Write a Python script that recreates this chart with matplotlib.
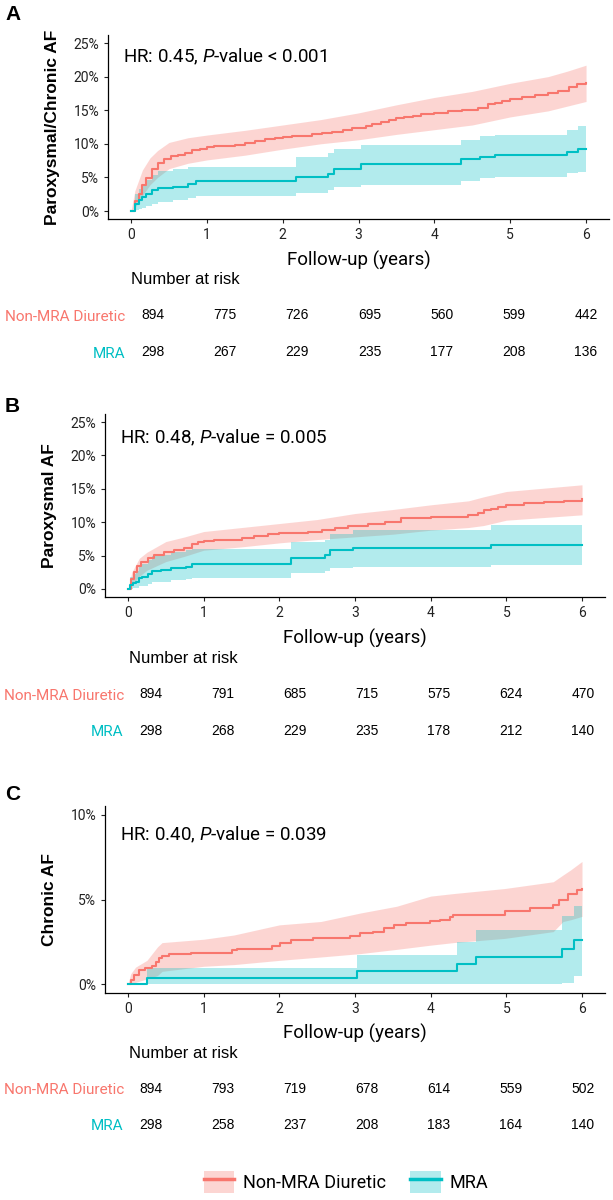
import matplotlib
matplotlib.use("Agg")
import matplotlib.pyplot as plt
from matplotlib.patches import Patch
from matplotlib.lines import Line2D

plt.rcParams['font.family'] = ['Roboto', 'DejaVu Sans']
plt.rcParams['mathtext.fontset'] = 'custom'
plt.rcParams['mathtext.rm'] = 'Roboto'
plt.rcParams['mathtext.it'] = 'Roboto:italic'

RED = '#F8766D'
TEAL = '#00BFC4'
groups = ['Non-MRA Diuretic', 'MRA']
risk_times = [0, 1, 2, 3, 4, 5, 6]

# ---- Panel A: Paroxysmal/Chronic AF ----
a_t_red = [0, 0.05, 0.1, 0.15, 0.2, 0.27, 0.35, 0.44, 0.53, 0.62, 0.71, 0.8, 0.91, 1.0, 1.1,
           1.24, 1.37, 1.5, 1.63, 1.77, 1.9, 2.0, 2.12, 2.26, 2.39, 2.52, 2.65, 2.79, 2.92, 3.0,
           3.1, 3.18, 3.3, 3.4, 3.5, 3.6, 3.72, 3.83, 4.0, 4.18, 4.36, 4.58, 4.71, 4.8, 4.89,
           5.0, 5.15, 5.33, 5.5, 5.63, 5.77, 5.88, 6.0]
a_red = [0, 1.5, 2.6, 3.9, 4.9, 6.3, 7.1, 7.7, 8.2, 8.4, 8.7, 9.1, 9.3, 9.5, 9.6,
         9.6, 9.8, 10.1, 10.4, 10.7, 10.8, 11.0, 11.2, 11.2, 11.4, 11.6, 11.8, 12.05, 12.3, 12.4,
         12.7, 12.9, 13.2, 13.5, 13.8, 14.0, 14.2, 14.4, 14.6, 14.9, 15.0, 15.3, 15.9, 16.1, 16.4,
         16.6, 17.0, 17.3, 17.5, 17.8, 18.4, 18.85, 19.0]
a_t_red_ci = [0, 0.05, 0.15, 0.25, 0.35, 0.5, 0.75, 1.0, 1.5, 2.0, 2.5, 3.0, 3.5, 4.0, 4.5,
              5.0, 5.5, 5.75, 6.0]
a_red_hi = [0, 3.0, 6.1, 7.9, 9.0, 10.2, 10.9, 11.3, 12.0, 12.8, 13.6, 14.6, 15.8, 16.9, 17.8,
            19.0, 20.0, 20.8, 21.7]
a_red_lo = [0, 0.5, 2.3, 3.9, 5.0, 6.3, 7.1, 7.6, 8.3, 9.2, 10.0, 10.6, 11.4, 12.1, 12.8,
            14.0, 14.9, 15.6, 16.3]
a_t_teal = [0, 0.05, 0.1, 0.15, 0.2, 0.27, 0.35, 0.55, 0.75, 0.86, 2.17, 2.6, 2.68, 3.03,
            4.35, 4.6, 4.8, 5.75, 5.9, 6.0]
a_teal = [0, 1.1, 1.6, 2.1, 2.6, 3.1, 3.4, 3.6, 4.0, 4.4, 5.0, 5.5, 6.2, 7.0,
          7.7, 8.0, 8.3, 8.8, 9.3, 9.3]
a_teal_hi = [0, 2.5, 3.2, 3.9, 4.6, 5.3, 5.9, 6.3, 6.5, 6.6, 8.0, 8.6, 9.3, 9.8,
             10.6, 11.1, 11.3, 12.0, 12.6, 12.6]
a_teal_lo = [0, 0.1, 0.3, 0.5, 0.8, 1.1, 1.4, 1.7, 2.0, 2.3, 2.7, 3.1, 3.5, 3.9,
             4.4, 4.9, 5.1, 5.6, 5.85, 5.85]
a_risk_red = [894, 775, 726, 695, 560, 599, 442]
a_risk_teal = [298, 267, 229, 235, 177, 208, 136]

# ---- Panel B: Paroxysmal AF ----
b_t_red = [0, 0.04, 0.08, 0.12, 0.17, 0.26, 0.35, 0.48, 0.61, 0.74, 0.85, 0.93, 1.0, 1.14,
           1.32, 1.5, 1.67, 1.85, 2.0, 2.2, 2.38, 2.56, 2.73, 2.91, 3.0, 3.17, 3.39, 3.61,
           3.83, 4.0, 4.26, 4.49, 4.62, 4.71, 4.8, 4.89, 5.0, 5.24, 5.5, 5.76, 6.0]
b_red = [0, 1.5, 2.6, 3.4, 4.1, 4.7, 5.1, 5.6, 5.8, 6.1, 6.7, 7.0, 7.2, 7.4,
         7.4, 7.6, 8.0, 8.2, 8.4, 8.4, 8.6, 8.8, 9.2, 9.4, 9.5, 9.8, 10.1, 10.6,
         10.7, 10.8, 10.8, 11.1, 11.4, 11.8, 12.0, 12.3, 12.5, 12.8, 13.0, 13.2, 13.4]
b_t_red_ci = [0, 0.05, 0.15, 0.25, 0.5, 0.75, 1.0, 1.5, 2.0, 2.5, 3.0, 3.5, 4.0, 4.5, 4.7,
              5.0, 5.5, 6.0]
b_red_hi = [0, 2.5, 4.6, 5.5, 7.1, 7.8, 8.6, 9.2, 9.8, 10.4, 11.3, 11.9, 12.6, 13.2, 13.8,
            14.6, 15.1, 15.6]
b_red_lo = [0, 0.6, 1.9, 2.8, 4.1, 4.9, 5.8, 6.3, 6.9, 7.4, 7.8, 8.2, 8.8, 9.2, 9.5,
            10.3, 10.7, 11.1]
b_t_teal = [0, 0.03, 0.06, 0.1, 0.15, 0.19, 0.26, 0.32, 0.43, 0.57, 0.77, 0.85, 2.16, 2.6,
            2.67, 2.97, 4.8, 6.0]
b_teal = [0, 0.6, 0.85, 1.1, 1.6, 1.85, 2.3, 2.7, 2.85, 3.1, 3.3, 3.8, 4.6, 5.1,
          5.8, 6.2, 6.6, 6.6]
b_teal_hi = [0, 1.8, 2.3, 2.7, 3.4, 3.8, 4.4, 4.9, 5.1, 5.5, 5.8, 6.0, 7.1, 7.4,
             8.3, 8.8, 9.6, 9.6]
b_teal_lo = [0, 0.0, 0.1, 0.2, 0.4, 0.5, 0.8, 1.0, 1.1, 1.3, 1.5, 1.6, 2.4, 2.7,
             3.1, 3.3, 3.6, 3.6]
b_risk_red = [894, 791, 685, 715, 575, 624, 470]
b_risk_teal = [298, 268, 229, 235, 178, 212, 140]

# ---- Panel C: Chronic AF ----
c_t_red = [0, 0.035, 0.08, 0.145, 0.23, 0.32, 0.365, 0.41, 0.45, 0.54, 0.83, 1.38, 1.44, 1.9,
           2.01, 2.15, 2.45, 2.94, 3.07, 3.24, 3.38, 3.51, 3.68, 3.99, 4.12, 4.25, 4.3, 4.98,
           5.31, 5.62, 5.7, 5.82, 5.93, 6.0]
c_red = [0, 0.24, 0.53, 0.83, 0.93, 1.07, 1.32, 1.52, 1.66, 1.76, 1.85, 2.0, 2.1, 2.25,
         2.45, 2.6, 2.75, 2.85, 3.0, 3.1, 3.3, 3.5, 3.6, 3.7, 3.8, 3.95, 4.1, 4.3,
         4.5, 4.7, 5.0, 5.3, 5.55, 5.65]
c_t_red_ci = [0, 0.035, 0.1, 0.25, 0.39, 0.45, 1.0, 1.4, 2.0, 2.55, 3.07, 3.55, 4.0, 4.3,
              4.98, 5.62, 5.75, 5.85, 6.0]
c_red_hi = [0, 0.6, 1.0, 1.4, 2.2, 2.45, 2.65, 2.9, 3.5, 3.7, 4.2, 4.6, 5.2, 5.35,
            5.65, 6.05, 6.45, 6.75, 7.25]
c_red_lo = [0, 0.0, 0.1, 0.3, 0.5, 0.75, 1.05, 1.15, 1.4, 1.6, 1.8, 2.05, 2.3, 2.45,
            2.7, 3.1, 3.7, 3.8, 4.0]
c_t_teal = [0, 0.255, 3.03, 4.35, 4.6, 5.74, 5.9, 6.0]
c_teal = [0, 0.37, 0.79, 1.18, 1.62, 2.1, 2.6, 2.6]
c_teal_hi = [0, 0.95, 1.7, 2.5, 3.2, 4.0, 4.6, 4.6]
c_teal_lo = [0, 0.0, 0.0, 0.0, 0.0, 0.05, 0.5, 0.5]
c_risk_red = [894, 793, 719, 678, 614, 559, 502]
c_risk_teal = [298, 258, 237, 208, 183, 164, 140]

W, H = 613, 1200


def box(l, t, r, b):
    return [l / W, 1 - b / H, (r - l) / W, (b - t) / H]


fig = plt.figure(figsize=(W / 100, H / 100), dpi=100)

panels = [
    dict(letter='A', ylab='Paroxysmal/Chronic AF', text=r'HR: 0.45, $\mathit{P}$-value < 0.001',
         ymax=25, ystep=5, ytext=22.9,
         red=(a_t_red, a_red), red_ci=(a_t_red_ci, a_red_lo, a_red_hi),
         teal=(a_t_teal, a_teal, a_teal_lo, a_teal_hi), risk=(a_risk_red, a_risk_teal),
         plot=(108.3, 34.6, 608.8, 219.4), table=(131.3, 296.5, 607.7, 370.5), ly=15),
    dict(letter='B', ylab='Paroxysmal AF', text=r'HR: 0.48, $\mathit{P}$-value = 0.005',
         ymax=25, ystep=5, ytext=22.7,
         red=(b_t_red, b_red), red_ci=(b_t_red_ci, b_red_lo, b_red_hi),
         teal=(b_t_teal, b_teal, b_teal_lo, b_teal_hi), risk=(b_risk_red, b_risk_teal),
         plot=(105.3, 413.7, 604.7, 597.3), table=(129.4, 675.5, 604.6, 749.5), ly=407),
    dict(letter='C', ylab='Chronic AF', text=r'HR: 0.40, $\mathit{P}$-value = 0.039',
         ymax=10, ystep=5, ytext=8.8,
         red=(c_t_red, c_red), red_ci=(c_t_red_ci, c_red_lo, c_red_hi),
         teal=(c_t_teal, c_teal, c_teal_lo, c_teal_hi), risk=(c_risk_red, c_risk_teal),
         plot=(105.3, 806.5, 604.7, 992.5), table=(129.4, 1071, 604.6, 1143), ly=795),
]

for p in panels:
    ax = fig.add_axes(box(*p['plot']))
    t, lo, hi = p['red_ci']
    ax.fill_between(t, lo, hi, color=RED, alpha=0.3, linewidth=0)
    t, y, lo, hi = p['teal']
    ax.fill_between(t, lo, hi, step='post', color=TEAL, alpha=0.3, linewidth=0)
    ax.plot(*p['red'], drawstyle='steps-post', color=RED, lw=1.5)
    ax.plot(t, y, drawstyle='steps-post', color=TEAL, lw=1.5)
    ax.set_xlim(-0.3, 6.3)
    ax.set_ylim(-0.05 * p['ymax'], 1.05 * p['ymax'])
    ax.set_xticks(risk_times)
    yt = list(range(0, p['ymax'] + 1, p['ystep']))
    ax.set_yticks(yt)
    ax.set_yticklabels([f'{v}%' for v in yt])
    ax.tick_params(labelsize=10, length=3, width=0.8, colors='#222222')
    for s in ['top', 'right']:
        ax.spines[s].set_visible(False)
    for s in ['left', 'bottom']:
        ax.spines[s].set_linewidth(0.9)
    ax.set_xlabel('Follow-up (years)', fontsize=13.5, labelpad=6)
    ax.set_ylabel(p['ylab'], fontsize=12.5, fontweight='bold',
                  family=['Liberation Sans', 'DejaVu Sans'], labelpad=10)
    ax.text(-0.1, p['ytext'], p['text'], fontsize=13.5, va='center', ha='left')
    fig.text(5 / W, 1 - p['ly'] / H, p['letter'], fontsize=15, fontweight='bold',
             family=['Liberation Sans', 'DejaVu Sans'], va='center', ha='left')

    # risk table
    tx = fig.add_axes(box(*p['table']))
    tx.set_xlim(-0.3, 6.3)
    tx.set_ylim(-0.5, 1.5)
    for row, vals in [(1, p['risk'][0]), (0, p['risk'][1])]:
        for tt, v in zip(risk_times, vals):
            tx.text(tt, row, str(v), ha='center', va='center', fontsize=10,
                    family=['Liberation Sans', 'DejaVu Sans'])
    tx.set_xticks([])
    tx.set_yticks([1, 0])
    tx.set_yticklabels(groups, fontsize=11)
    for lab, col in zip(tx.get_yticklabels(), [RED, TEAL]):
        lab.set_color(col)
    tx.tick_params(axis='y', length=0, pad=4)
    for s in tx.spines.values():
        s.set_visible(False)
    tx.patch.set_alpha(0)
    tx.set_title('Number at risk', loc='left', fontsize=12, pad=9,
                 family=['Liberation Sans', 'DejaVu Sans'])

handles = [(Patch(facecolor=RED, alpha=0.3, linewidth=0), Line2D([], [], color=RED, lw=2.5)),
           (Patch(facecolor=TEAL, alpha=0.3, linewidth=0), Line2D([], [], color=TEAL, lw=2.5))]
fig.legend(handles, groups, loc='center', bbox_to_anchor=(346 / W, 1 - 1182 / H), ncol=2,
           frameon=False, fontsize=13, handlelength=1.7, handleheight=1.5,
           columnspacing=1.3, handletextpad=0.5)

fig.savefig('out.png', dpi=100)
